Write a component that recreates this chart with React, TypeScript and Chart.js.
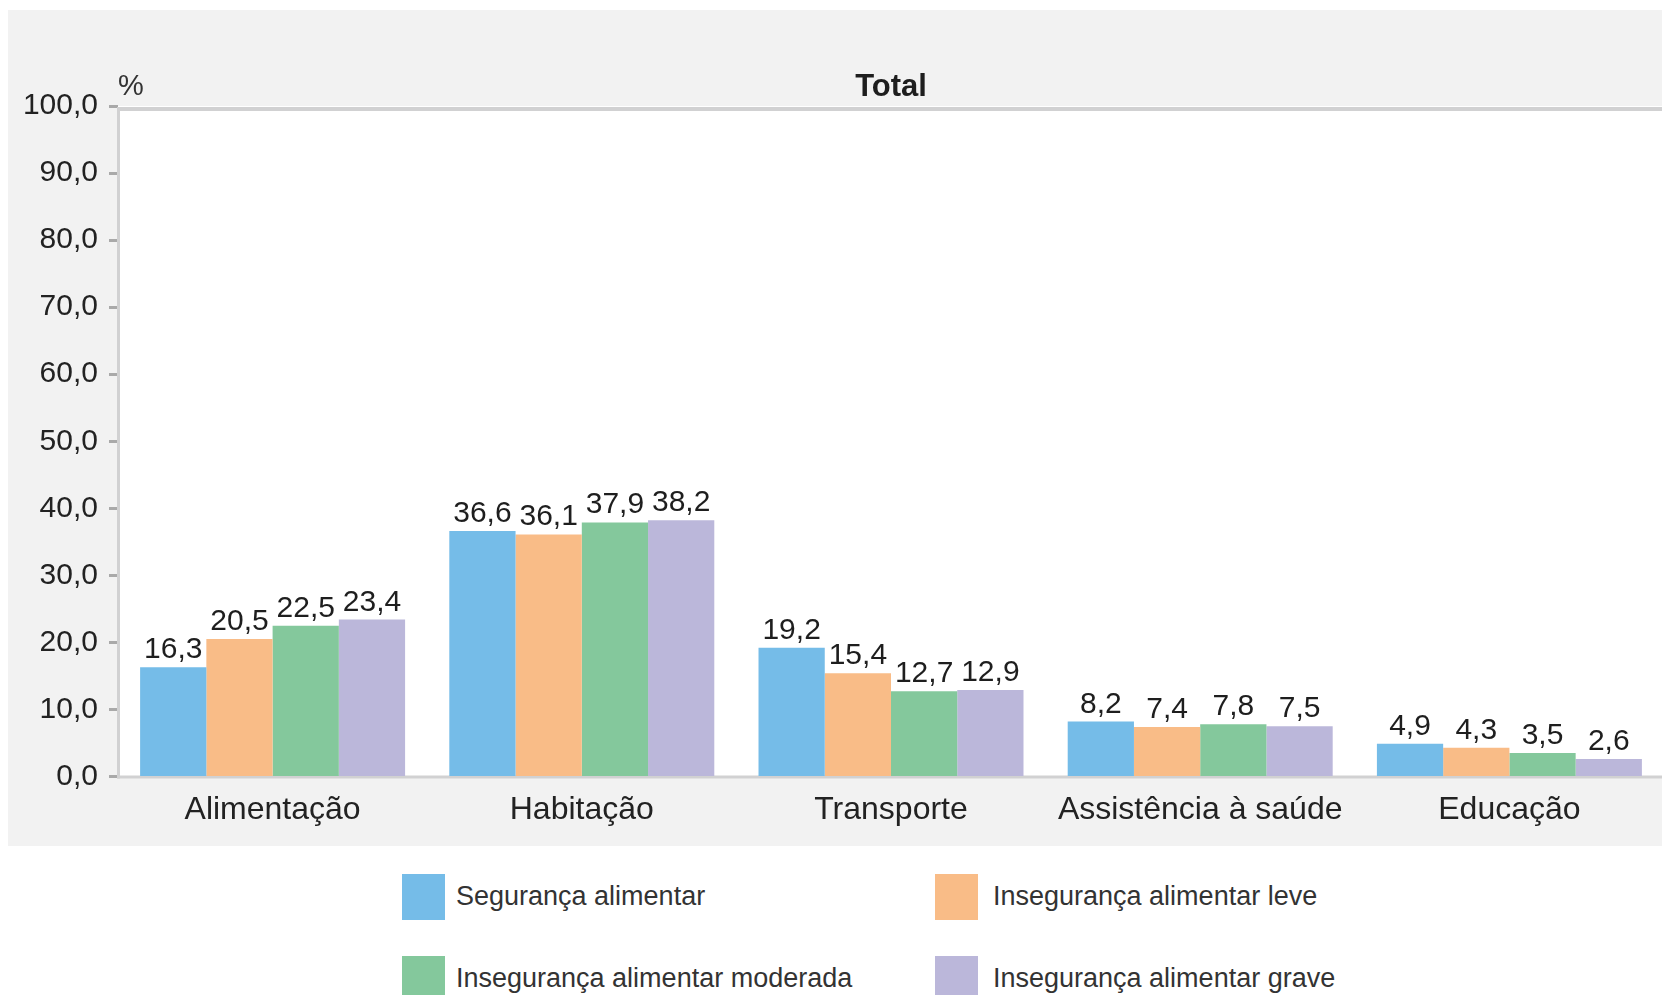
import React, { useEffect, useRef } from "react";
import { Chart, registerables } from "chart.js";

Chart.register(...registerables);

const categories = ["Alimentação", "Habitação", "Transporte", "Assistência à saúde", "Educação"];
const seriesNames = [
  "Segurança alimentar",
  "Insegurança alimentar leve",
  "Insegurança alimentar moderada",
  "Insegurança alimentar grave",
];
const seguranca = [16.3, 36.6, 19.2, 8.2, 4.9];
const inseguracaLeve = [20.5, 36.1, 15.4, 7.4, 4.3];
const inseguracaModerada = [22.5, 37.9, 12.7, 7.8, 3.5];
const inseguracaGrave = [23.4, 38.2, 12.9, 7.5, 2.6];
const seriesColors = ["#75bce8", "#f9bc87", "#84c89c", "#bbb7da"];
const yMin = 0;
const yMax = 100;
const yStep = 10;
const chartTitle = "Total";
const unitLabel = "%";

const FONT = "'Liberation Sans', Arial, sans-serif";
const fmt = (v: number) => v.toFixed(1).replace(".", ",");

const framePlugin = {
  id: "frame",
  beforeDraw(chart: any) {
    const { ctx, chartArea: a } = chart;
    ctx.save();
    ctx.fillStyle = "#ffffff";
    ctx.fillRect(a.left, a.top, a.right - a.left, a.bottom - a.top);
    ctx.restore();
  },
  beforeDatasetsDraw(chart: any) {
    const { ctx, chartArea: a } = chart;
    ctx.save();
    ctx.fillStyle = "#d1d1d2";
    ctx.fillRect(a.left - 1, a.top + 1, a.right - a.left + 4, 4);
    ctx.fillRect(a.right, a.top + 1, 3, a.bottom - a.top + 1);
    ctx.fillRect(a.left - 1, a.top + 1, 3, a.bottom - a.top + 1);
    ctx.fillRect(a.left - 1, a.bottom - 1, a.right - a.left + 4, 3);
    ctx.restore();
  },
  afterDatasetsDraw(chart: any) {
    const { ctx } = chart;
    ctx.save();
    ctx.font = `30px ${FONT}`;
    ctx.fillStyle = "#1e1e1e";
    ctx.textAlign = "center";
    ctx.textBaseline = "alphabetic";
    chart.data.datasets.forEach((ds: any, i: number) => {
      const meta = chart.getDatasetMeta(i);
      meta.data.forEach((el: any, j: number) => {
        ctx.fillText(fmt(ds.data[j]), el.x, el.y - 9);
      });
    });
    ctx.restore();
  },
  afterDraw(chart: any) {
    const { ctx, chartArea: a } = chart;
    ctx.save();
    ctx.fillStyle = "#1e1e1e";
    ctx.textBaseline = "middle";
    ctx.textAlign = "center";
    ctx.font = `bold 31px ${FONT}`;
    ctx.fillText(chartTitle, (a.left + a.right) / 2, 77);
    ctx.textAlign = "left";
    ctx.font = `29px ${FONT}`;
    ctx.fillStyle = "#333333";
    ctx.fillText(unitLabel, a.left, 77);
    ctx.restore();
  },
};

export default function App() {
  const ref = useRef<HTMLCanvasElement | null>(null);

  useEffect(() => {
    document.documentElement.style.overflow = "hidden";
    if (!ref.current) return;
    const series = [seguranca, inseguracaLeve, inseguracaModerada, inseguracaGrave];
    const chart = new Chart(ref.current, {
      type: "bar",
      data: {
        labels: categories,
        datasets: series.map((d, i) => ({
          label: seriesNames[i],
          data: d,
          backgroundColor: seriesColors[i],
          borderWidth: 0,
          categoryPercentage: 0.857,
          barPercentage: 1,
        })),
      },
      options: {
        responsive: true,
        maintainAspectRatio: false,
        animation: false,
        layout: { padding: { top: 96, right: 6, left: 0, bottom: 0 } },
        plugins: {
          legend: { display: false },
          title: { display: false },
          tooltip: { enabled: false },
        },
        scales: {
          x: {
            grid: { display: false, drawTicks: false },
            border: { display: false },
            ticks: {
              padding: 14,
              color: "#222222",
              font: { family: FONT, size: 32 },
              maxRotation: 0,
              autoSkip: false,
            },
            afterFit: (s: any) => {
              s.height = 69.5;
            },
          },
          y: {
            min: yMin,
            max: yMax,
            grid: {
              drawOnChartArea: false,
              drawTicks: true,
              tickLength: 9,
              tickWidth: 3,
              tickColor: "#a9a9a9",
            },
            border: { display: false },
            ticks: {
              stepSize: yStep,
              padding: 11,
              color: "#222222",
              font: { family: FONT, size: 30 },
              callback: (v: any) => fmt(Number(v)),
            },
            afterFit: (s: any) => {
              s.width = 110;
            },
          },
        },
      },
      plugins: [framePlugin],
    });
    return () => chart.destroy();
  }, []);

  const legendPos = [
    { sx: 394, sy: 28, tx: 448, ty: 50 },
    { sx: 927, sy: 28, tx: 985, ty: 50 },
    { sx: 394, sy: 110, tx: 448, ty: 132 },
    { sx: 927, sy: 110, tx: 985, ty: 132 },
  ];

  return (
    <div style={{ marginTop: 2, width: 1662 }}>
      <div style={{ width: 1662, height: 836, background: "#f2f2f2", position: "relative" }}>
        <canvas ref={ref} />
      </div>
      <div style={{ position: "relative", width: 1662, height: 149, overflow: "hidden", background: "#ffffff" }}>
        {seriesNames.map((name, i) => (
          <React.Fragment key={name}>
            <div
              style={{
                position: "absolute",
                left: legendPos[i].sx,
                top: legendPos[i].sy,
                width: 43,
                height: 46,
                background: seriesColors[i],
              }}
            />
            <div
              style={{
                position: "absolute",
                left: legendPos[i].tx,
                top: legendPos[i].ty - 15,
                height: 30,
                lineHeight: "30px",
                fontFamily: FONT,
                fontSize: 27,
                color: "#333333",
                whiteSpace: "nowrap",
              }}
            >
              {name}
            </div>
          </React.Fragment>
        ))}
      </div>
    </div>
  );
}
